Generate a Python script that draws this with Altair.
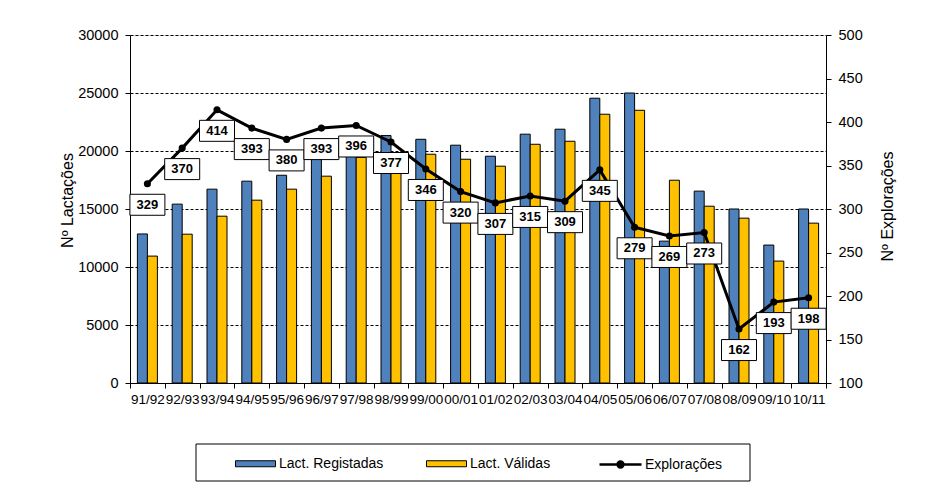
import altair as alt
import pandas as pd

epocas = ["91/92", "92/93", "93/94", "94/95", "95/96", "96/97", "97/98", "98/99", "99/00", "00/01",
          "01/02", "02/03", "03/04", "04/05", "05/06", "06/07", "07/08", "08/09", "09/10", "10/11"]
registadas = [12850, 15420, 16710, 17400, 17910, 19800, 20100, 21330, 21010, 20500,
              19550, 21450, 21880, 24550, 25000, 12230, 16540, 15000, 11890, 15000]
validas = [10940, 12830, 14380, 15760, 16710, 17830, 19450, 19300, 19720, 19290,
           18690, 20580, 20840, 23170, 23510, 17480, 15240, 14210, 10510, 13780]
exploracoes = [329, 370, 414, 393, 380, 393, 396, 377, 346, 320,
               307, 315, 309, 345, 279, 269, 273, 162, 193, 198]

series = ["Lact. Registadas", "Lact. Válidas"]
cores = ["#4F81BD", "#FFC000"]
nome_linha = "Explorações"

FONT = "Liberation Sans, Arial"

bars_df = pd.DataFrame({
    "epoca": epocas * 2,
    "serie": [series[0]] * len(epocas) + [series[1]] * len(epocas),
    "valor": registadas + validas,
})
line_df = pd.DataFrame({"epoca": epocas, "explor": exploracoes, "nome": [nome_linha] * len(epocas)})

x_enc = alt.X(
    "epoca:N", sort=epocas,
    scale=alt.Scale(paddingInner=0, paddingOuter=0),
    axis=alt.Axis(title=None, labelAngle=0, tickBand="extent", tickSize=5, labelPadding=4,
                  labelFontSize=13.5, labelFont=FONT, labelColor="black",
                  tickColor="black", domainColor="black", grid=False),
)

bars = alt.Chart(bars_df).mark_bar(stroke="black", strokeWidth=1).encode(
    x=x_enc,
    xOffset=alt.XOffset("serie:N", sort=series, scale=alt.Scale(paddingInner=0, paddingOuter=0.74)),
    y=alt.Y("valor:Q", scale=alt.Scale(domain=[0, 30000], nice=False),
            axis=alt.Axis(title="Nº Lactações", values=list(range(0, 30001, 5000)), format="d",
                          grid=True, gridDash=[3, 2], gridColor="black", gridOpacity=1, gridWidth=1,
                          tickSize=5, labelPadding=7, labelFontSize=14.5, labelFont=FONT,
                          labelColor="black", tickColor="black", domainColor="black",
                          titleFont=FONT, titleFontSize=16, titleFontWeight="normal",
                          titleColor="black", titleX=-58, titleY=165, titleBaseline="alphabetic",
                          titleAngle=270)),
    color=alt.Color("serie:N", scale=alt.Scale(domain=series, range=cores),
                    legend=alt.Legend(orient="none", legendX=105, legendY=408, direction="horizontal",
                                      title=None, symbolType="M-1,-0.15L1,-0.15L1,0.15L-1,0.15Z",
                                      symbolSize=1600, symbolStrokeColor="black", symbolStrokeWidth=1,
                                      symbolOpacity=1, labelFont=FONT, labelFontSize=14,
                                      labelColor="black", labelOffset=3, columnPadding=40, padding=0)),
)

y2_scale = alt.Scale(domain=[100, 500], nice=False)
y2_axis = alt.Axis(orient="right", title="Nº Explorações", values=list(range(100, 501, 50)), format="d",
                   grid=False, tickSize=5, labelPadding=7, labelFontSize=14.5, labelFont=FONT,
                   labelColor="black", tickColor="black", domainColor="black",
                   titleFont=FONT, titleFontSize=16, titleFontWeight="normal", titleColor="black",
                   titleX=66, titleY=171, titleBaseline="alphabetic", titleAngle=270)

base = alt.Chart(line_df).encode(
    x=x_enc,
    y=alt.Y("explor:Q", scale=y2_scale, axis=y2_axis),
)

line = base.mark_line(strokeWidth=3).encode(
    stroke=alt.Stroke("nome:N", scale=alt.Scale(domain=[nome_linha], range=["black"]),
                      legend=alt.Legend(orient="none", legendX=468, legendY=407, direction="horizontal",
                                        title=None,
                                        symbolType="M-1,0L1,0M0.14,0A0.14,0.14 0 1,1 -0.14,0A0.14,0.14 0 1,1 0.14,0Z",
                                        symbolSize=1764, symbolStrokeWidth=2.5, symbolFillColor="black",
                                        symbolStrokeColor="black",
                                        labelFont=FONT, labelFontSize=14, labelColor="black",
                                        labelOffset=2, padding=0)),
)
points = base.mark_circle(size=50, color="black", opacity=1)
boxes = base.mark_point(shape="M-1,-0.6L1,-0.6L1,0.6L-1,0.6Z", size=1225, filled=True, fill="white",
                        stroke="black", strokeWidth=1, opacity=1, yOffset=21)
labels = base.mark_text(yOffset=21, font=FONT, fontSize=13, fontWeight="bold", color="black",
                        baseline="middle", align="center").encode(text=alt.Text("explor:Q", format="d"))

frame = alt.Chart(pd.DataFrame({"k": [0]})).mark_rect(fill="white", fillOpacity=0, stroke="black",
                                                       strokeWidth=1).encode(
    x=alt.value(66), x2=alt.value(620), y=alt.value(409), y2=alt.value(446))

right = alt.layer(line, points, boxes, labels)

chart = alt.layer(bars, right, frame).resolve_scale(y="independent").properties(
    width=696, height=348,
    autosize=alt.AutoSizeParams(type="none"),
    padding={"left": 130, "top": 35, "right": 105, "bottom": 104},
).configure_view(stroke="black", strokeWidth=1).configure(background="white")

chart.save("out.html", embed_options={"renderer": "svg", "actions": False})
